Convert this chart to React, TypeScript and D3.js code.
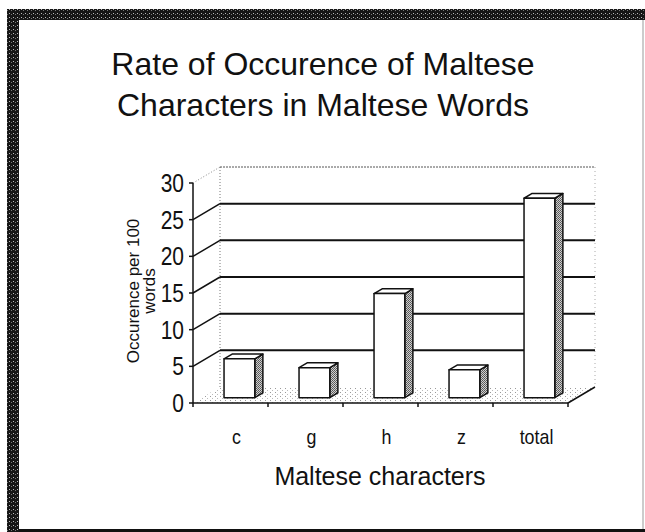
import React from "react";
import * as d3 from "d3";

// chart values
const categories = ["c", "g", "h", "z", "total"];
const values = [5.3, 4.1, 14.2, 3.8, 27.2];
const yTicks = [0, 5, 10, 15, 20, 25, 30];
const titleLines = ["Rate of Occurence of Maltese", "Characters in Maltese Words"];
const yTitleLines = ["Occurence per 100", "words"];
const xTitle = "Maltese characters";

const W = 645;
const H = 532;
const FONT = "'Liberation Sans', Arial, sans-serif";

// depth of the 3d box
const DX = 27;
const DY = -16;

export default function App() {
  const x = d3.scaleBand<string>().domain(categories).range([193, 568]).paddingInner(0.59).paddingOuter(0.295);
  const xSlot = d3.scaleBand<string>().domain(categories).range([193, 568]);
  const y = d3.scaleLinear().domain([0, 30]).range([403, 183]);

  const [xl, xr] = x.range();
  const y0 = y(0);

  // bars sit part way into the depth
  const f0 = 0.33;
  const fd = 0.3;
  const ox = f0 * DX;
  const oy = f0 * DY;
  const dx = fd * DX;
  const dy = fd * DY;
  const w = x.bandwidth();

  const pts = (p: number[][]) => p.map((q) => q.join(",")).join(" ");

  return (
    <svg width={W} height={H} style={{ position: "absolute", left: 0, top: 0 }} fontFamily={FONT}>
      <defs>
        <pattern id="frame" width="4" height="4" patternUnits="userSpaceOnUse">
          <rect width="4" height="4" fill="#161616" />
          <rect x="1" y="1" width="1" height="1" fill="#bbb" />
          <rect x="3" y="2" width="1" height="1" fill="#777" />
        </pattern>
        <pattern id="floor" width="5" height="4" patternUnits="userSpaceOnUse">
          <rect width="5" height="4" fill="#fff" />
          <rect x="0" y="0" width="1" height="1" fill="#999" />
          <rect x="2" y="2" width="1" height="1" fill="#bbb" />
        </pattern>
        <pattern id="side" width="2" height="2" patternUnits="userSpaceOnUse">
          <rect width="2" height="2" fill="#d0d0d0" />
          <rect x="0" y="0" width="1" height="1" fill="#555" />
          <rect x="1" y="1" width="1" height="1" fill="#666" />
        </pattern>
      </defs>

      <rect width={W} height={H} fill="#fff" />
      {/* frame */}
      <rect x={7} y={9} width={W - 7} height={11} fill="url(#frame)" />
      <rect x={7} y={9} width={12} height={H - 9} fill="url(#frame)" />
      <line x1={643} x2={643} y1={20} y2={H} stroke="#999" strokeWidth={1} />
      <rect x={19} y={529} width={W - 19} height={3} fill="#111" />

      {/* title */}
      {titleLines.map((t, i) => (
        <text key={t} x={323} y={75 + i * 41} textAnchor="middle" fontSize={32} fill="#111">
          {t}
        </text>
      ))}

      {/* floor */}
      <polygon
        points={pts([[xl, y0], [xr, y0], [xr + DX, y0 + DY], [xl + DX, y0 + DY]])}
        fill="url(#floor)"
      />

      {/* back wall edges */}
      <line x1={xl + DX} x2={xl + DX} y1={y(30) + DY} y2={y0 + DY} stroke="#777" strokeDasharray="1,2" />
      <line x1={xr + DX} x2={xr + DX} y1={y(30) + DY} y2={y0 + DY} stroke="#aaa" strokeDasharray="1,3" />
      <line x1={xl + DX} x2={xr + DX} y1={y(30) + DY} y2={y(30) + DY} stroke="#555" strokeDasharray="2,1" />
      <line x1={xl} x2={xl + DX} y1={y(30)} y2={y(30) + DY} stroke="#888" strokeDasharray="1,2" />

      {/* gridlines */}
      {yTicks.filter((v) => v > 0 && v < 30).map((v) => (
        <g key={v}>
          <line x1={xl} x2={xl + DX} y1={y(v)} y2={y(v) + DY} stroke="#111" strokeWidth={1.5} />
          <line x1={xl + DX} x2={xr + DX} y1={y(v) + DY} y2={y(v) + DY} stroke="#111" strokeWidth={2} />
        </g>
      ))}

      {/* bars */}
      {categories.map((c, i) => {
        const bx = (x(c) as number) + ox;
        const b0 = y0 + oy;
        const b1 = y(values[i]) + oy;
        return (
          <g key={c} stroke="#111" strokeWidth={1.5} strokeLinejoin="round">
            <polygon points={pts([[bx + w, b1], [bx + w + dx, b1 + dy], [bx + w + dx, b0 + dy], [bx + w, b0]])} fill="url(#side)" />
            <polygon points={pts([[bx, b1], [bx + dx, b1 + dy], [bx + w + dx, b1 + dy], [bx + w, b1]])} fill="#fff" />
            <rect x={bx} y={b1} width={w} height={b0 - b1} fill="#fff" />
          </g>
        );
      })}

      {/* axes */}
      <line x1={xl} x2={xl} y1={y(30)} y2={y0} stroke="#111" strokeWidth={1.5} />
      <line x1={xl} x2={xr} y1={y0} y2={y0} stroke="#111" strokeWidth={1.5} />
      <line x1={xr} x2={xr + DX} y1={y0} y2={y0 + DY} stroke="#111" strokeWidth={1.5} />
      {yTicks.map((v) => (
        <g key={v}>
          <line x1={xl - 4} x2={xl} y1={y(v)} y2={y(v)} stroke="#111" strokeWidth={1.5} />
          <text transform={`translate(184,${y(v)}) scale(0.84,1)`} dy="0.36em" textAnchor="end" fontSize={25} fill="#111">
            {v}
          </text>
        </g>
      ))}
      {categories.map((c) => (
        <line key={c} x1={xSlot(c) as number} x2={xSlot(c) as number} y1={y0} y2={y0 + 4} stroke="#111" strokeWidth={1.5} />
      ))}
      <line x1={xr} x2={xr} y1={y0} y2={y0 + 4} stroke="#111" strokeWidth={1.5} />
      {categories.map((c) => (
        <text
          key={c}
          transform={`translate(${(xSlot(c) as number) + xSlot.bandwidth() / 2 + 6},444) scale(0.85,1)`}
          textAnchor="middle"
          fontSize={21}
          fill="#111"
        >
          {c}
        </text>
      ))}

      {/* axis titles */}
      <text x={380} y={485} textAnchor="middle" fontSize={25} fill="#111">
        {xTitle}
      </text>
      {yTitleLines.map((t, i) => (
        <text
          key={t}
          transform={`translate(${139 + i * 16},291) rotate(-90)`}
          textAnchor="middle"
          fontSize={17}
          fill="#111"
        >
          {t}
        </text>
      ))}
    </svg>
  );
}
